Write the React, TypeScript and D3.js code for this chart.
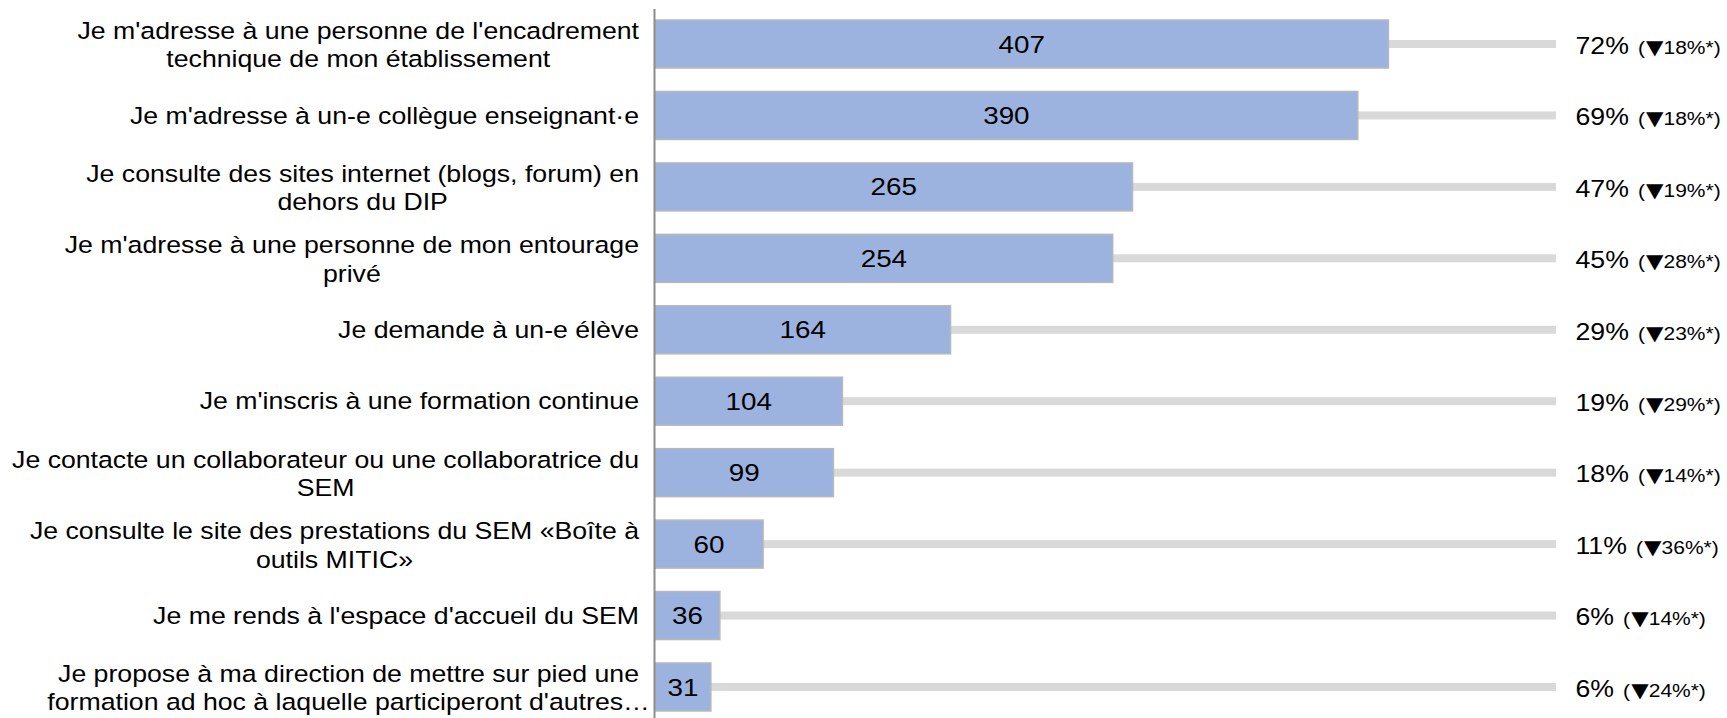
import React, { useEffect, useRef } from "react";
import * as d3 from "d3";

const categories = [
  "encadrement",
  "collegue",
  "sites",
  "entourage",
  "eleve",
  "formation",
  "collaborateur",
  "boite",
  "accueil",
  "direction",
];

const labelLines: string[][] = [
  ["Je m'adresse à une personne de l'encadrement", "technique de mon établissement"],
  ["Je m'adresse à un-e collègue enseignant·e"],
  ["Je consulte des sites internet (blogs, forum) en", "dehors du DIP"],
  ["Je m'adresse à une personne de mon entourage", "privé"],
  ["Je demande à un-e élève"],
  ["Je m'inscris à une formation continue"],
  ["Je contacte un collaborateur ou une collaboratrice du", "SEM"],
  ["Je consulte le site des prestations du SEM «Boîte à", "outils MITIC»"],
  ["Je me rends à l'espace d'accueil du SEM"],
  ["Je propose à ma direction de mettre sur pied une", "formation ad hoc à laquelle participeront d'autres…"],
];

const counts = [407, 390, 265, 254, 164, 104, 99, 60, 36, 31];
const percents = [72, 69, 47, 45, 29, 19, 18, 11, 6, 6];
const changes = [18, 18, 19, 28, 23, 29, 14, 36, 14, 24];
const scaleMax = 500;

export default function App() {
  const ref = useRef<SVGSVGElement>(null);

  useEffect(() => {
    const svg = d3.select(ref.current);
    svg.selectAll("*").remove();
    const H = 718;
    const font = "'Liberation Sans', Arial, sans-serif";
    const SX = 1.135;
    const FS = 23.5;

    const x = d3.scaleLinear().domain([0, scaleMax]).range([655, 1556]);
    const y = d3
      .scaleBand<string>()
      .domain(categories)
      .range([8.3, 722.7])
      .paddingInner(0.328)
      .paddingOuter(0.164);
    const cy = (d: string) => (y(d) as number) + y.bandwidth() / 2;

    // gray tracks
    svg
      .append("g")
      .selectAll("rect")
      .data(categories)
      .join("rect")
      .attr("x", x(0))
      .attr("width", x(scaleMax) - x(0))
      .attr("y", (d) => cy(d) - 4)
      .attr("height", 8)
      .attr("fill", "#d9d9d9");

    // bars
    svg
      .append("g")
      .selectAll("rect")
      .data(categories)
      .join("rect")
      .attr("x", x(0))
      .attr("width", (d, i) => x(counts[i]) - x(0))
      .attr("y", (d) => y(d) as number)
      .attr("height", y.bandwidth())
      .attr("fill", "#9db3df")
      .attr("stroke", "#b8b8b8")
      .attr("stroke-width", 1.5);

    // axis line
    const ax = svg
      .append("g")
      .attr("transform", "translate(654.5,0)")
      .call(
        d3
          .axisLeft(y)
          .tickSize(0)
          .tickSizeOuter(0)
          .tickFormat(() => "")
      );
    ax.select(".domain").attr("stroke", "#8c8c8c").attr("stroke-width", 2);
    ax.selectAll(".tick").remove();
    ax.select(".domain").attr("d", `M0,9V${H}`);

    // values inside bars
    const VF = 24.5;
    categories.forEach((d, i) => {
      const cx = (x(0) + x(counts[i])) / 2;
      svg
        .append("g")
        .attr("transform", `translate(${cx},${cy(d)}) scale(${SX},1)`)
        .append("text")
        .attr("text-anchor", "middle")
        .attr("y", 0.35 * VF)
        .attr("font-family", font)
        .attr("font-size", VF)
        .attr("fill", "#000")
        .text(counts[i]);
    });

    // category labels
    const LH = 28.5;
    categories.forEach((d, i) => {
      const lines = labelLines[i];
      const off = lines.length > 1 ? 1 : 0;
      const g = svg
        .append("g")
        .attr("transform", `translate(639,${cy(d) + off}) scale(${SX},1)`);
      const texts = lines.map((ln, j) =>
        g
          .append("text")
          .attr("font-family", font)
          .attr("font-size", FS)
          .attr("fill", "#000")
          .attr("y", (j - (lines.length - 1) / 2) * LH + 0.35 * FS)
          .attr("text-anchor", "middle")
          .text(ln)
      );
      const widths = texts.map((t) => (t.node() as SVGTextElement).getComputedTextLength());
      const fitting = widths.filter((w, j) => !lines[j].endsWith("…"));
      const maxW = d3.max(fitting.length ? fitting : widths) || 0;
      texts.forEach((t) => t.attr("x", -maxW / 2));
    });

    // percentage labels
    const SF = 18.5;
    categories.forEach((d, i) => {
      const t = svg
        .append("g")
        .attr("transform", `translate(1575.5,${cy(d) + 1.5}) scale(${SX},1)`)
        .append("text")
        .attr("font-family", font)
        .attr("fill", "#000")
        .attr("y", 0.35 * FS)
        .attr("text-anchor", "start");
      t.append("tspan").attr("font-size", FS).text(`${percents[i]}%`);
      t.append("tspan").attr("font-size", SF).attr("dx", 8).text("(");
      t.append("tspan")
        .attr("font-size", 20)
        .attr("dx", 1)
        .attr("font-family", "'DejaVu Sans', sans-serif")
        .text("▼");
      t.append("tspan").attr("font-size", SF).text(`${changes[i]}%*)`);
    });
  }, []);

  return (
    <svg
      ref={ref}
      width={1727}
      height={718}
      style={{ position: "absolute", left: 0, top: 0, background: "#fff" }}
    />
  );
}
